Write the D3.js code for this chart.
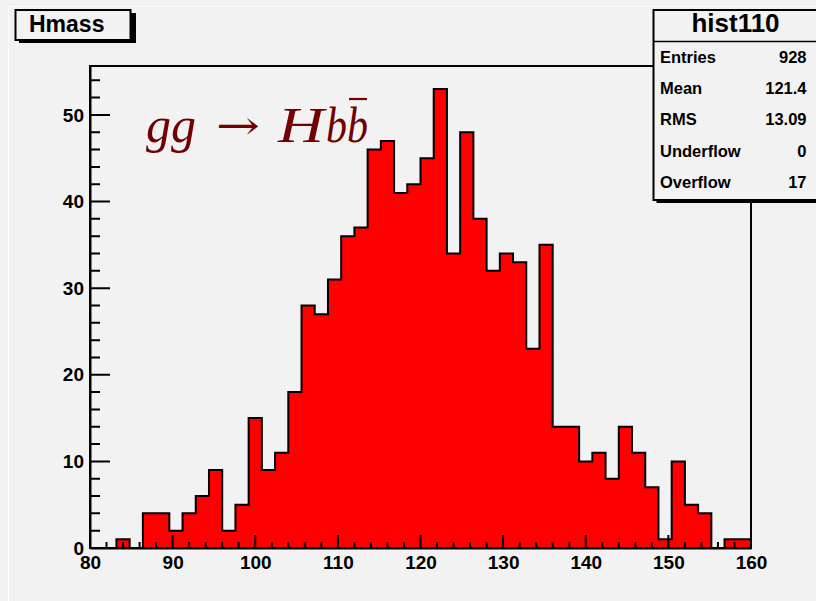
<!DOCTYPE html>
<html>
<head>
<meta charset="utf-8">
<script src="https://cdn.jsdelivr.net/npm/d3@7"></script>
<style>
  html, body { margin: 0; padding: 0; background: #f2f2f2; }
  svg { display: block; }
</style>
</head>
<body>
<script>
// ---- data ----
const histName = "hist110";
const histTitle = "Hmass";
const xMin = 80, xMax = 160, nBins = 50;
const binCounts = [0,0,1,0,4,4,2,4,6,9,
                   2,5,15,9,11,18,28,27,31,36,
                   37,46,47,41,42,45,53,34,48,38,
                   32,34,33,23,35,14,14,10,11,8,
                   14,11,7,1,10,5,4,0,1,1];
const xTickLabels = [80,90,100,110,120,130,140,150,160];
const yTickLabels = [0,10,20,30,40,50];
const statLabels = ["Entries","Mean","RMS","Underflow","Overflow"];
const statValues = ["928","121.4","13.09","0","17"];

const W = 816, H = 601;
const svg = d3.select("body").append("svg").attr("width", W).attr("height", H);
svg.append("rect").attr("width", W).attr("height", H).attr("fill", "#f2f2f2");
svg.append("path").attr("d", `M8.5,${H}V6.5H${W}`).attr("fill", "none").attr("stroke", "#fcfcfc").attr("stroke-width", 1);

const binW = (xMax - xMin) / nBins;
const yMax = d3.max(binCounts) * 1.05;
const x = d3.scaleLinear().domain([xMin, xMax]).range([90, 751]);
const y = d3.scaleLinear().domain([0, yMax]).range([548, 66]);

// histogram (filled step outline)
const pts = [[xMin, 0]];
binCounts.forEach((v, i) => {
  pts.push([xMin + i * binW, v]);
  pts.push([xMin + (i + 1) * binW, v]);
});
pts.push([xMax, 0]);
const line = d3.line().x(d => x(d[0])).y(d => y(d[1]));
svg.append("path").attr("d", line(pts) + "Z")
  .attr("fill", "#ff0000").attr("stroke", "#000").attr("stroke-width", 2)
  .attr("stroke-linejoin", "miter");

// frame
svg.append("rect").attr("x", x(xMin)).attr("y", y(yMax)).attr("width", x(xMax) - x(xMin)).attr("height", y(0) - y(yMax))
  .attr("fill", "none").attr("stroke", "#000").attr("stroke-width", 2);

const labelFont = "'Liberation Sans', Arial, Helvetica, sans-serif";

// inward tick marks via the scales
const xMinor = d3.range(xMin, xMax + 0.001, 2).filter(v => v % 10 !== 0);
const yMinor = d3.range(0, yMax, 2).filter(v => v % 10 !== 0);
const xTickData = xMinor.map(v => ({v, len: 6})).concat(xTickLabels.map(v => ({v, len: 13})));
const yTickData = yMinor.map(v => ({v, len: 10})).concat(yTickLabels.map(v => ({v, len: 20})));
const tp = d3.path();
xTickData.forEach(d => { tp.moveTo(x(d.v), y(0)); tp.lineTo(x(d.v), y(0) - d.len); });
yTickData.forEach(d => { tp.moveTo(x(xMin), y(d.v)); tp.lineTo(x(xMin) + d.len, y(d.v)); });
svg.append("path").attr("class", "ticks").attr("d", tp.toString())
  .attr("fill", "none").attr("stroke", "#000").attr("stroke-width", 2);

// axes: labels + axis lines
svg.append("g").attr("transform", `translate(0,${y(0)})`)
  .call(d3.axisBottom(x).tickValues(xTickLabels).tickSize(0).tickPadding(8).tickFormat(d3.format("d")))
  .call(g => g.select(".domain").attr("stroke", "#000").attr("stroke-width", 2))
  .call(g => g.selectAll("text").attr("dy", "0.71em").attr("font-family", labelFont).attr("font-weight", "bold").attr("font-size", 19).attr("fill", "#000"));
svg.append("g").attr("transform", `translate(${x(xMin)},0)`)
  .call(d3.axisLeft(y).tickValues(yTickLabels).tickSize(0).tickPadding(6).tickFormat(d3.format("d")))
  .call(g => g.select(".domain").attr("stroke", "#000").attr("stroke-width", 2))
  .call(g => g.selectAll("text").attr("font-family", labelFont).attr("font-weight", "bold").attr("font-size", 19).attr("fill", "#000"));

// LaTeX-like annotation: gg -> H b bbar
const texColor = "#730000";
const texFont = "'Liberation Serif', 'Times New Roman', serif";
const tex = svg.append("g").attr("fill", texColor).attr("font-family", texFont).attr("font-size", 50);
const glyphs = [
  {t: "gg", x: 146, st: "italic", len: 50},
  {t: "\u2192", x: 216, st: "normal", len: 44, font: "'DejaVu Serif', serif", size: 40, dy: -3},
  {t: "H", x: 278, st: "italic", len: 46},
  {t: "bb", x: 326, st: "italic", len: 42}
];
glyphs.forEach(gl => {
  const t = tex.append("text").attr("x", gl.x).attr("y", 141.5 + (gl.dy || 0)).attr("font-style", gl.st).text(gl.t);
  if (gl.font) t.attr("font-family", gl.font);
  if (gl.size) t.attr("font-size", gl.size);
  if (gl.len) t.attr("textLength", gl.len).attr("lengthAdjust", "spacingAndGlyphs");
});
tex.append("path").attr("d", "M349,99H367").attr("stroke", texColor).attr("stroke-width", 2.2);

// title box
svg.append("rect").attr("x", 19).attr("y", 13).attr("width", 117).attr("height", 30).attr("fill", "#000");
svg.append("rect").attr("x", 15.5).attr("y", 10).attr("width", 115).attr("height", 30).attr("fill", "#f2f2f2").attr("stroke", "#000").attr("stroke-width", 2);
svg.append("text").attr("x", 29).attr("y", 32).attr("font-family", labelFont).attr("font-weight", "bold").attr("font-size", 23).text(histTitle);

// stats box
const sbx = 653.5, sby = 10, sbw = 200, sbh = 190;
svg.append("rect").attr("x", sbx + 3).attr("y", sby + 3).attr("width", sbw).attr("height", sbh).attr("fill", "#000");
svg.append("rect").attr("x", sbx).attr("y", sby).attr("width", sbw).attr("height", sbh).attr("fill", "#f2f2f2").attr("stroke", "#000").attr("stroke-width", 2);
svg.append("path").attr("d", `M${sbx},41.5H${W}`).attr("stroke", "#000").attr("stroke-width", 1.5);
svg.append("text").attr("x", 735.5).attr("y", 31.5).attr("text-anchor", "middle").attr("font-family", labelFont)
  .attr("font-weight", "bold").attr("font-size", 26).text(histName);
const rowY = d3.scalePoint().domain(statLabels).range([62.7, 188]);
statLabels.forEach((lab, i) => {
  svg.append("text").attr("x", 660).attr("y", rowY(lab)).attr("font-family", labelFont).attr("font-weight", "bold").attr("font-size", 16.5).text(lab);
  svg.append("text").attr("x", 806.5).attr("y", rowY(lab)).attr("text-anchor", "end").attr("font-family", labelFont).attr("font-weight", "bold").attr("font-size", 16.5).text(statValues[i]);
});
</script>
</body>
</html>
